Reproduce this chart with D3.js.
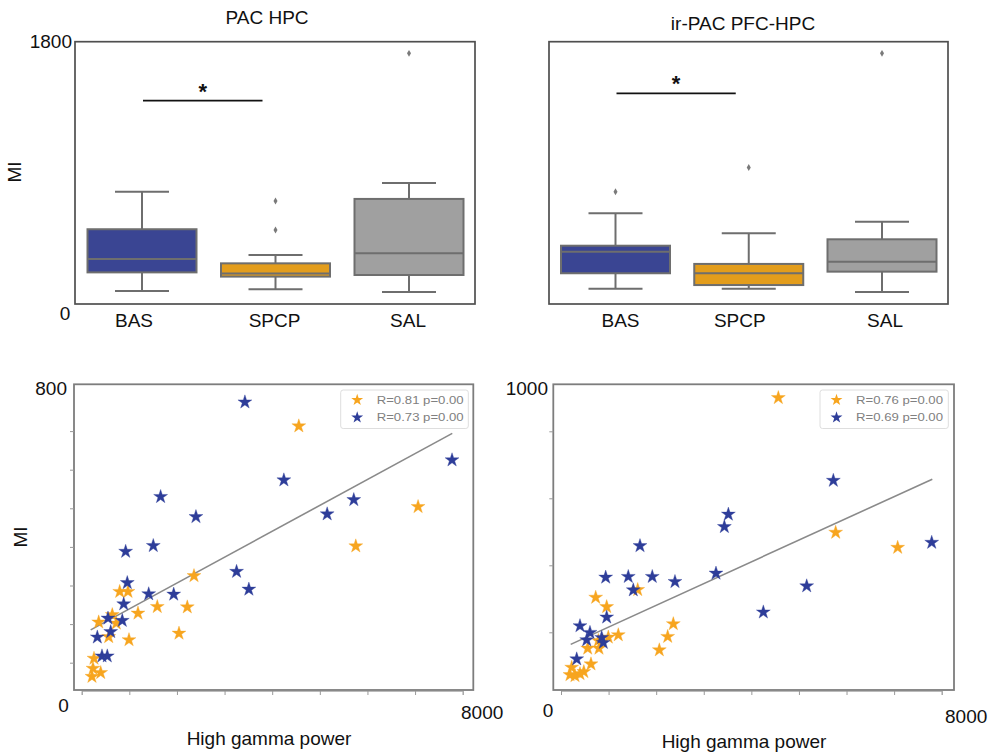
<!DOCTYPE html>
<html>
<head>
<meta charset="utf-8">
<script src="https://cdn.jsdelivr.net/npm/d3@7"></script>
<style>
  html, body { margin: 0; padding: 0; background: #ffffff; }
  svg { display: block; font-family: "Liberation Sans", Arial, Helvetica, sans-serif; }
</style>
</head>
<body>
<svg id="chart" width="998" height="756"></svg>
<script>
// ---------------- DATA ----------------
const categories = ["BAS", "SPCP", "SAL"];
const boxTitles = ["PAC HPC", "ir-PAC PFC-HPC"];
// [lower whisker, Q1, median, Q3, upper whisker]
const pacHpcBox = [[89, 217, 309, 513, 771], [101, 188, 210, 279, 336], [82, 199, 348, 721, 830]];
const pacHpcOutliers = [[], [508, 707], [1720]];
const irPacBox = [[105, 211, 359, 400, 622], [105, 130, 211, 275, 485], [82, 222, 290, 444, 565]];
const irPacOutliers = [[771], [936], [1720]];
const sigLevels = [1395, 1446];
const boxYTicks = ["0", "1800"];

// scatter: [high gamma power, MI]
const hpcOrange = [[4559, 713], [7063, 504], [5755, 402], [2358, 325], [1587, 245], [2217, 244], [2043, 176],
  [1182, 228], [993, 159], [798, 284], [972, 284], [642, 224], [726, 202], [567, 167], [357, 205],
  [258, 111], [237, 85], [399, 74], [216, 64]];
const hpcBlue = [[3427, 775], [7776, 625], [4245, 573], [5713, 522], [5154, 485], [1657, 530], [2399, 478],
  [1503, 403], [923, 388], [957, 307], [3252, 336], [3510, 290], [1407, 278], [1932, 277], [882, 252],
  [852, 209], [552, 215], [609, 180], [328, 166], [426, 117], [537, 117]];
const hpcFit = [[189, 185], [7781, 694]];
const hpcLegend = ["R=0.81 p=0.00", "R=0.73 p=0.00"];

const pfcOrange = [[4567, 900], [5772, 498], [7075, 453], [1612, 327], [729, 304], [960, 276], [2360, 225],
  [2242, 187], [2066, 147], [1204, 192], [994, 185], [784, 175], [561, 152], [798, 152], [630, 105],
  [480, 82], [225, 95], [189, 73], [294, 70], [399, 76]];
const pfcBlue = [[5723, 653], [3517, 552], [3433, 515], [7790, 468], [1660, 458], [3257, 376], [5163, 338],
  [4252, 260], [939, 364], [1414, 366], [1918, 366], [2395, 351], [1519, 326], [960, 245], [399, 219],
  [609, 199], [540, 177], [855, 184], [889, 169], [330, 120]];
const pfcFit = [[204, 164], [7802, 657]];
const pfcLegend = ["R=0.76 p=0.00", "R=0.69 p=0.00"];

const xTickValues = [0, 1000, 2000, 3000, 4000, 5000, 6000, 7000, 8000];
const hpcYTickValues = [100, 200, 300, 400, 500, 600, 700];
const pfcYTickValues = [200, 400, 600, 800];
const scatterXLabels = ["0", "8000"];
const hpcYLabel = "800";
const pfcYLabel = "1000";

// ---------------- STYLE ----------------
const boxFills = ["#3a4593", "#e39d1c", "#a0a0a0"];
const edge = "#6e6e6e";
const orange = "#f7a51f";
const blue = "#2e3d99";
const fontSize = 19;

const svg = d3.select("#chart");

// ---------------- BOX PLOTS ----------------
function boxPanel(p) {
  const g = svg.append("g");
  const y = d3.scaleLinear().domain([0, 1800]).range([304, 41.7]);
  const x = d3.scalePoint().domain(categories).range(p.centers);
  const bw = 109, cw = 54;

  g.append("rect").attr("x", p.frame[0]).attr("y", 41.7)
    .attr("width", p.frame[1] - p.frame[0]).attr("height", 304 - 41.7)
    .attr("fill", "none").attr("stroke", "#4f4f4f").attr("stroke-width", 1.7);

  categories.forEach((c, i) => {
    const s = p.box[i], cx = x(c);
    const gg = g.append("g");
    gg.append("line").attr("x1", cx).attr("x2", cx).attr("y1", y(s[0])).attr("y2", y(s[1]))
      .attr("stroke", edge).attr("stroke-width", 2);
    gg.append("line").attr("x1", cx).attr("x2", cx).attr("y1", y(s[3])).attr("y2", y(s[4]))
      .attr("stroke", edge).attr("stroke-width", 2);
    [s[0], s[4]].forEach(v => gg.append("line").attr("x1", cx - cw / 2).attr("x2", cx + cw / 2)
      .attr("y1", y(v)).attr("y2", y(v)).attr("stroke", edge).attr("stroke-width", 2));
    gg.append("rect").attr("x", cx - bw / 2).attr("y", y(s[3])).attr("width", bw)
      .attr("height", y(s[1]) - y(s[3])).attr("fill", boxFills[i])
      .attr("stroke", edge).attr("stroke-width", 2);
    gg.append("line").attr("x1", cx - bw / 2).attr("x2", cx + bw / 2).attr("y1", y(s[2])).attr("y2", y(s[2]))
      .attr("stroke", edge).attr("stroke-width", 2);
    p.outliers[i].forEach(v => gg.append("path")
      .attr("d", d3.symbol(d3.symbolDiamond, 14)())
      .attr("transform", `translate(${cx},${y(v)})`).attr("fill", "#7a7a7a"));
    g.append("text").attr("x", cx + p.labelShift[i]).attr("y", 327).attr("text-anchor", "middle")
      .attr("font-size", fontSize).attr("fill", "#111").text(c);
  });

  // significance bar
  const x1 = x("BAS") + 1, x2 = x("SPCP") - 13;
  g.append("line").attr("x1", x1).attr("x2", x2).attr("y1", y(p.sig)).attr("y2", y(p.sig))
    .attr("stroke", "#111").attr("stroke-width", 1.8);
  g.append("text").attr("x", (x1 + x2) / 2).attr("y", y(p.sig) - 2).attr("text-anchor", "middle")
    .attr("font-size", 22).attr("font-weight", "bold").attr("fill", "#111").text("*");

  g.append("text").attr("x", p.titleX).attr("y", p.titleY).attr("text-anchor", "middle")
    .attr("font-size", fontSize).attr("fill", "#111").text(p.title);
  return { g, y };
}

boxPanel({ frame: [75, 475], centers: [142, 409], box: pacHpcBox, outliers: pacHpcOutliers,
  sig: sigLevels[0], title: boxTitles[0], titleX: 267, titleY: 24, labelShift: [-8, -1, -1] });
boxPanel({ frame: [549, 948], centers: [615.5, 882], box: irPacBox, outliers: irPacOutliers,
  sig: sigLevels[1], title: boxTitles[1], titleX: 743, titleY: 30, labelShift: [5, -9, 3] });

svg.append("text").attr("x", 72).attr("y", 48).attr("text-anchor", "end")
  .attr("font-size", fontSize).attr("fill", "#111").text(boxYTicks[1]);
svg.append("text").attr("x", 65).attr("y", 320).attr("text-anchor", "middle")
  .attr("font-size", fontSize).attr("fill", "#111").text(boxYTicks[0]);
svg.append("text").attr("transform", "translate(21,172) rotate(-90)").attr("text-anchor", "middle")
  .attr("font-size", fontSize).attr("fill", "#111").text("MI");

// ---------------- SCATTERS ----------------
function scatterPanel(p) {
  const g = svg.append("g");
  const x = d3.scaleLinear().domain([0, 8000]).range(p.xRange);
  const y = d3.scaleLinear().domain([0, 800]).range(p.yRange);

  g.append("rect").attr("x", p.frame[0]).attr("y", 384.3)
    .attr("width", p.frame[1] - p.frame[0]).attr("height", 690 - 384.3)
    .attr("fill", "none").attr("stroke", "#7d7d7d").attr("stroke-width", 1.8);

  const xAxis = d3.axisBottom(x).tickValues(xTickValues).tickSize(4).tickFormat("");
  g.append("g").attr("transform", "translate(0,691)").call(xAxis)
    .call(a => a.select(".domain").attr("stroke", "#bbb"))
    .call(a => a.selectAll(".tick line").attr("stroke", "#999"));
  const yAxis = d3.axisLeft(y).tickValues(p.yTicks).tickSize(4).tickFormat("");
  g.append("g").attr("transform", `translate(${p.frame[0]},0)`).call(yAxis)
    .call(a => a.select(".domain").remove())
    .call(a => a.selectAll(".tick line").attr("stroke", "#999"));

  g.append("line").attr("x1", x(p.fit[0][0])).attr("y1", y(p.fit[0][1]))
    .attr("x2", x(p.fit[1][0])).attr("y2", y(p.fit[1][1]))
    .attr("stroke", "#8a8a8a").attr("stroke-width", 1.6);

  const star = d3.symbol(d3.symbolStar, 60);
  const drawStars = (data, color) => g.append("g").selectAll("path").data(data).join("path")
    .attr("d", star).attr("transform", d => `translate(${x(d[0])},${y(d[1])})`)
    .attr("fill", color).attr("stroke", color).attr("stroke-width", 0.6).attr("stroke-opacity", 0.6);
  drawStars(p.orange, orange);
  drawStars(p.blue, blue);

  // legend
  const lg = g.append("g");
  lg.append("rect").attr("x", p.legend[0]).attr("y", 390).attr("width", p.legend[1] - p.legend[0])
    .attr("height", 38.5).attr("rx", 2.5).attr("fill", "#fff").attr("stroke", "#dedede").attr("stroke-width", 1);
  [[orange, 400, p.labels[0]], [blue, 417.5, p.labels[1]]].forEach(([c, yy, t]) => {
    lg.append("path").attr("d", d3.symbol(d3.symbolStar, 44)()).attr("transform", `translate(${p.legend[0] + 16.5},${yy})`)
      .attr("fill", c);
    lg.append("text").attr("x", p.legend[0] + 36).attr("y", yy + 3.5).attr("font-size", 10)
      .attr("fill", "#808080").attr("textLength", 87).attr("lengthAdjust", "spacingAndGlyphs").text(t);
  });

  // hand-placed endpoint labels
  g.append("text").attr("x", p.yLabelPos[0]).attr("y", p.yLabelPos[1]).attr("text-anchor", "end")
    .attr("font-size", fontSize).attr("fill", "#111").text(p.yLabel);
  g.append("text").attr("x", p.zeroPos[0]).attr("y", p.zeroPos[1]).attr("text-anchor", "middle")
    .attr("font-size", fontSize).attr("fill", "#111").text(scatterXLabels[0]);
  g.append("text").attr("x", p.maxPos[0]).attr("y", p.maxPos[1]).attr("text-anchor", "start")
    .attr("font-size", fontSize).attr("fill", "#111").text(scatterXLabels[1]);
  g.append("text").attr("x", p.xTitle[0]).attr("y", p.xTitle[1]).attr("text-anchor", "middle")
    .attr("font-size", fontSize).attr("fill", "#111").text("High gamma power");
}

scatterPanel({ frame: [74, 473.3], xRange: [81.7, 462.7], yRange: [701.3, 392.5], yTicks: hpcYTickValues,
  orange: hpcOrange, blue: hpcBlue, fit: hpcFit, labels: hpcLegend, legend: [340.7, 468.3],
  yLabel: hpcYLabel, yLabelPos: [67, 395], zeroPos: [63.5, 712], maxPos: [461, 719], xTitle: [269, 745] });
scatterPanel({ frame: [553.3, 954], xRange: [561, 941.7], yRange: [699.3, 431.3], yTicks: pfcYTickValues,
  orange: pfcOrange, blue: pfcBlue, fit: pfcFit, labels: pfcLegend, legend: [820, 948.3],
  yLabel: pfcYLabel, yLabelPos: [548, 395], zeroPos: [548, 717], maxPos: [945, 723], xTitle: [744, 748] });

svg.append("text").attr("transform", "translate(27,537) rotate(-90)").attr("text-anchor", "middle")
  .attr("font-size", fontSize).attr("fill", "#111").text("MI");
</script>
</body>
</html>
